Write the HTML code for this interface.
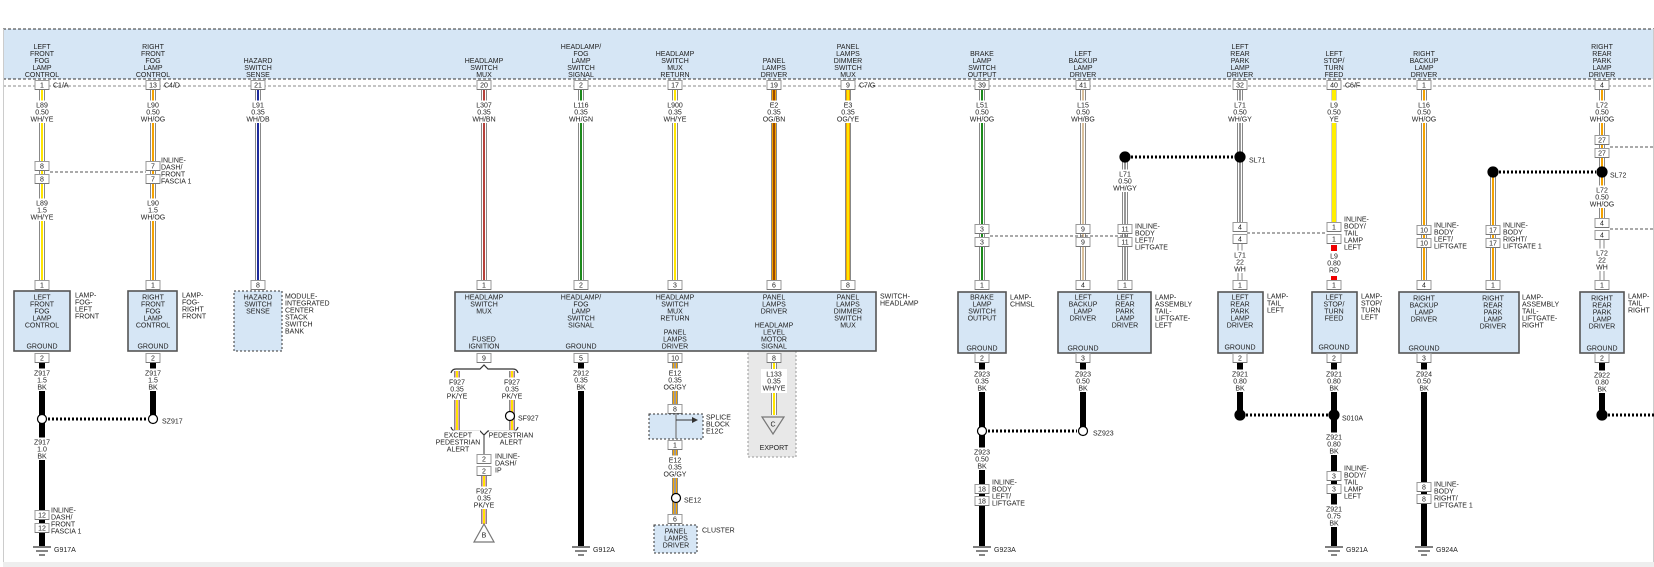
<!DOCTYPE html>
<html><head><meta charset="utf-8"><style>
html,body{margin:0;padding:0;background:#fff;}
svg{display:block;}
text{font-family:"Liberation Sans",Arial,sans-serif;font-size:7px;fill:#222;}
</style></head><body>
<svg id="s" xmlns="http://www.w3.org/2000/svg" width="1654" height="567" viewBox="0 0 1654 567">
<rect x="0" y="0" width="1654" height="567" fill="#fff"/>
<rect x="3" y="29" width="1651" height="50" fill="#d6e6f5"/>
<line x1="3" y1="29" x2="1654" y2="29" stroke="#333" stroke-dasharray="3,2"/>
<line x1="3" y1="79" x2="1654" y2="79" stroke="#333" stroke-dasharray="3,2"/>
<line x1="3" y1="86" x2="1654" y2="86" stroke="#888" stroke-dasharray="3,2"/>
<line x1="3.5" y1="29" x2="3.5" y2="562" stroke="#ccc"/>
<line x1="1653.5" y1="29" x2="1653.5" y2="562" stroke="#ccc"/>
<rect x="3" y="562" width="1651" height="5" fill="#eeeeee"/>
<!-- export area -->
<rect x="748" y="351" width="48" height="106" fill="#e8e8e8" stroke="#999" stroke-dasharray="2,2"/>
<g id="g"></g>
</svg>
<script>
const NS='http://www.w3.org/2000/svg';
const G=document.getElementById('g');
function el(t,a,txt){const e=document.createElementNS(NS,t);for(const k in a)e.setAttribute(k,a[k]);if(txt!==undefined)e.textContent=txt;G.appendChild(e);return e;}
const W={
WHYE:['#fff','#ffe600'],WHOG:['#fff','#f5a300'],WHDB:['#fff','#1c2a9c'],WHBN:['#fff','#b5403a'],
WHGN:['#fff','#1b8a1b'],OGBN:['#f5a300','#9a4a00'],OGYE:['#f5a300','#ffe600'],OGGY:['#f5a300','#999'],
WHBG:['#fff','#d9c09c'],WHGY:['#fff','#999'],YE:['#ffee00',null],PKYE:['#e6a3b4','#ffe600'],WH:['#fff',null]};
function wire(x,y1,y2,t){
 if(t==='BK'){el('rect',{x:x-3,y:y1,width:6,height:y2-y1,fill:'#000'});return;}
 if(t==='WH'){el('line',{x1:x-2,y1:y1,x2:x-2,y2:y2,stroke:'#888'});el('line',{x1:x+2,y1:y1,x2:x+2,y2:y2,stroke:'#888'});return;}
 const c=W[t];
 el('rect',{x:x-3,y:y1,width:6,height:y2-y1,fill:t==='YE'?'#ccc':'#888'});
 el('rect',{x:x-2,y:y1,width:4,height:y2-y1,fill:c[0]});
 if(c[1])el('rect',{x:x-1,y:y1,width:2,height:y2-y1,fill:c[1]});
}
function txt(x,yc,lines,anchor,bg,size){
 anchor=anchor||'middle';size=size||7;const lh=7;
 if(bg){let w=0;lines.forEach(l=>w=Math.max(w,l.length*4.2));
  let x0=anchor==='middle'?x-w/2-1:x-1;
  el('rect',{x:x0,y:yc-4.5,width:w+2,height:lines.length*lh+1.5,fill:'#fff'});}
 lines.forEach((l,i)=>el('text',{x:x,y:yc+2.5+i*lh,'text-anchor':anchor,'font-size':size},l));
}
function pin(x,y,n){el('rect',{x:x-7,y:y-4.5,width:14,height:9,fill:'#fff',stroke:'#999','stroke-width':1});
 el('line',{x1:x-7,y1:y+4.5,x2:x+7,y2:y+4.5,stroke:'#777'});
 el('text',{x:x,y:y+2.5,'text-anchor':'middle','font-size':6.5},n);}
function box(x1,y1,x2,y2,dash){el('rect',{x:x1,y:y1,width:x2-x1,height:y2-y1,fill:'#d6e6f5',stroke:dash?'#333':'#555','stroke-width':dash?1:1.6,'stroke-dasharray':dash?'2,2':'none'});}
function circ(x,y,f){el('circle',{cx:x,cy:y,r:f?5:4.5,fill:f?'#000':'#fff',stroke:'#000','stroke-width':1.2});}
function dots(x1,x2,y){el('line',{x1:x1,y1:y,x2:x2,y2:y,stroke:'#000','stroke-width':3,'stroke-dasharray':'2,2'});}
function dash(x1,x2,y){el('line',{x1:x1,y1:y,x2:x2,y2:y,stroke:'#555','stroke-dasharray':'3,2'});}
function gnd(x,y,l){el('line',{x1:x-9,y1:y,x2:x+9,y2:y,stroke:'#333','stroke-width':1.2});
 el('line',{x1:x-6,y1:y+4,x2:x+6,y2:y+4,stroke:'#333','stroke-width':1.2});
 el('line',{x1:x-3,y1:y+8,x2:x+3,y2:y+8,stroke:'#333','stroke-width':1.2});
 el('text',{x:x+12,y:y+5},l);}
function hdr(x,s){const L=s.split('|');L.forEach((l,i)=>el('text',{x:x,y:77-(L.length-1-i)*7,'text-anchor':'middle'},l));}

// ---------- TOP WIRES ----------
const cols=[
[42,'LEFT|FRONT|FOG|LAMP|CONTROL','1','C1/A','WHYE',['L89','0.50','WH/YE']],
[153,'RIGHT|FRONT|FOG|LAMP|CONTROL','13','C4/D','WHOG',['L90','0.50','WH/OG']],
[258,'HAZARD|SWITCH|SENSE','21','','WHDB',['L91','0.35','WH/DB']],
[484,'HEADLAMP|SWITCH|MUX','20','','WHBN',['L307','0.35','WH/BN']],
[581,'HEADLAMP/|FOG|LAMP|SWITCH|SIGNAL','2','','WHGN',['L116','0.35','WH/GN']],
[675,'HEADLAMP|SWITCH|MUX|RETURN','17','','WHYE',['L900','0.35','WH/YE']],
[774,'PANEL|LAMPS|DRIVER','19','','OGBN',['E2','0.35','OG/BN']],
[848,'PANEL|LAMPS|DIMMER|SWITCH|MUX','9','C7/G','OGYE',['E3','0.35','OG/YE']],
[982,'BRAKE|LAMP|SWITCH|OUTPUT','39','','WHGN',['L51','0.50','WH/OG']],
[1083,'LEFT|BACKUP|LAMP|DRIVER','41','','WHBG',['L15','0.50','WH/BG']],
[1240,'LEFT|REAR|PARK|LAMP|DRIVER','32','','WHGY',['L71','0.50','WH/GY']],
[1334,'LEFT|STOP/|TURN|FEED','40','C6/F','YE',['L9','0.50','YE']],
[1424,'RIGHT|BACKUP|LAMP|DRIVER','1','','WHOG',['L16','0.50','WH/OG']],
[1602,'RIGHT|REAR|PARK|LAMP|DRIVER','4','','WHOG',['L72','0.50','WH/OG']]];
const bottomEnd={1240:222,1334:222,1602:218};
cols.forEach(c=>{const [x,h,p,side,t,lab]=c;hdr(x,h);
 wire(x,90,bottomEnd[x]||281,t);
});
// lower thin/other segments
wire(1240,243,281,'WH');wire(1602,240,281,'WH');
wire(1125,162,281,'WHGY');wire(1493,177,281,'WHOG');
// dashed lines between inline connectors
dash(50,146,172);dash(990,1130,236);dash(1247,1327,233);dash(1610,1654,147);dash(1610,1654,229);
cols.forEach(c=>{const [x,h,p,side,t,lab]=c;pin(x,85,p);if(side)txt(x+11,85,[side],'start');txt(x,105,lab,'middle',true);});
// left fog inline
pin(42,166,'8');pin(42,179,'8');txt(42,203,['L89','1.5','WH/YE'],'middle',true);
pin(153,166,'7');pin(153,179,'7');txt(153,203,['L90','1.5','WH/OG'],'middle',true);
txt(161,160,['INLINE-','DASH/','FRONT','FASCIA 1'],'start');
// right side inlines
pin(982,229,'3');pin(982,242,'3');pin(1083,229,'9');pin(1083,242,'9');
pin(1125,229,'11');pin(1125,242,'11');txt(1135,226,['INLINE-','BODY','LEFT/','LIFTGATE'],'start');
circ(1125,157,true);dots(1131,1234,157);circ(1240,157,true);txt(1249,160,['SL71'],'start');
txt(1125,174,['L71','0.50','WH/GY'],'middle',true);
pin(1240,227,'4');pin(1240,239,'4');txt(1240,255,['L71','22','WH'],'middle',true);
pin(1334,227,'1');pin(1334,239,'1');txt(1344,219,['INLINE-','BODY/','TAIL','LAMP','LEFT'],'start');
el('rect',{x:1331,y:245,width:6,height:6,fill:'#e00'});el('rect',{x:1331,y:276,width:6,height:6,fill:'#e00'});
txt(1334,256,['L9','0.80','RD'],'middle',true);
pin(1424,230,'10');pin(1424,243,'10');txt(1434,225,['INLINE-','BODY','LEFT/','LIFTGATE'],'start');
pin(1493,230,'17');pin(1493,243,'17');txt(1503,225,['INLINE-','BODY','RIGHT/','LIFTGATE 1'],'start');
circ(1493,172,true);dots(1499,1596,172);circ(1602,172,true);txt(1610,175,['SL72'],'start');
pin(1602,140,'27');pin(1602,153,'27');txt(1602,190,['L72','0.50','WH/OG'],'middle',true);
pin(1602,223,'4');pin(1602,235,'4');txt(1602,253,['L72','22','WH'],'middle',true);

// ---------- BOXES ----------
function blines(x,y,s){txt(x,y,s.split('|'));}
box(14,291,70,351);blines(42,297,'LEFT|FRONT|FOG|LAMP|CONTROL');txt(42,346,['GROUND']);txt(75,295,['LAMP-','FOG-','LEFT','FRONT'],'start');
box(128,291,177,351);blines(153,297,'RIGHT|FRONT|FOG|LAMP|CONTROL');txt(153,346,['GROUND']);txt(182,295,['LAMP-','FOG-','RIGHT','FRONT'],'start');
box(234,291,282,351,true);blines(258,297,'HAZARD|SWITCH|SENSE');txt(285,296,['MODULE-','INTEGRATED','CENTER','STACK','SWITCH','BANK'],'start');
box(455,292,876,351);
blines(484,297,'HEADLAMP|SWITCH|MUX');blines(581,297,'HEADLAMP/|FOG|LAMP|SWITCH|SIGNAL');
blines(675,297,'HEADLAMP|SWITCH|MUX|RETURN');blines(774,297,'PANEL|LAMPS|DRIVER');blines(848,297,'PANEL|LAMPS|DIMMER|SWITCH|MUX');
txt(484,339,['FUSED','IGNITION']);txt(581,346,['GROUND']);txt(675,332,['PANEL','LAMPS','DRIVER']);txt(774,325,['HEADLAMP','LEVEL','MOTOR','SIGNAL']);
txt(880,296,['SWITCH-','HEADLAMP'],'start');
box(958,292,1006,353);blines(982,297,'BRAKE|LAMP|SWITCH|OUTPUT');txt(982,348,['GROUND']);txt(1010,297,['LAMP-','CHMSL'],'start');
box(1058,292,1151,353);blines(1083,297,'LEFT|BACKUP|LAMP|DRIVER');blines(1125,297,'LEFT|REAR|PARK|LAMP|DRIVER');txt(1083,348,['GROUND']);
txt(1155,297,['LAMP-','ASSEMBLY','TAIL-','LIFTGATE-','LEFT'],'start');
box(1218,292,1263,353);blines(1240,297,'LEFT|REAR|PARK|LAMP|DRIVER');txt(1240,347,['GROUND']);txt(1267,296,['LAMP-','TAIL','LEFT'],'start');
box(1312,292,1357,353);blines(1334,297,'LEFT|STOP/|TURN|FEED');txt(1334,347,['GROUND']);txt(1361,296,['LAMP-','STOP/','TURN','LEFT'],'start');
box(1399,292,1519,353);blines(1424,298,'RIGHT|BACKUP|LAMP|DRIVER');blines(1493,298,'RIGHT|REAR|PARK|LAMP|DRIVER');txt(1424,348,['GROUND']);
txt(1522,297,['LAMP-','ASSEMBLY','TAIL-','LIFTGATE-','RIGHT'],'start');
box(1580,292,1624,353);blines(1602,298,'RIGHT|REAR|PARK|LAMP|DRIVER');txt(1602,348,['GROUND']);txt(1628,296,['LAMP-','TAIL','RIGHT'],'start');
// bottom pins of boxes
[[42,'1'],[153,'1'],[258,'8'],[484,'1'],[581,'2'],[675,'3'],[774,'6'],[848,'8'],[982,'1'],[1083,'4'],[1125,'1'],[1240,'1'],[1334,'1'],[1424,'4'],[1493,'1'],[1602,'1']].forEach(p=>pin(p[0],285,p[1]));

// ---------- BOTTOM ----------
// left fog grounds
wire(42,362,546,'BK');wire(153,362,419,'BK');
circ(42,419);dots(48,147,419);circ(153,419);txt(162,421,['SZ917'],'start');
txt(42,373,['Z917','1.5','BK'],'middle',true);txt(153,373,['Z917','1.5','BK'],'middle',true);
txt(42,442,['Z917','1.0','BK'],'middle',true);
pin(42,515,'12');pin(42,528,'12');txt(51,510,['INLINE-','DASH/','FRONT','FASCIA 1'],'start');
gnd(42,547,'G917A');
// fused ignition fork
wire(457,371,430,'PKYE');wire(512,371,430,'PKYE');
el('path',{d:'M451,373 Q452,369 456,369 L480,369 L484,365 L488,369 L513,369 Q517,369 518,373',fill:'none',stroke:'#333','stroke-width':1.2});
txt(457,382,['F927','0.35','PK/YE'],'middle',true);txt(512,382,['F927','0.35','PK/YE'],'middle',true);
circ(510,416);txt(518,418,['SF927'],'start');
el('path',{d:'M451,427 Q452,431 456,431 L480,431 L484,435 L488,431 L513,431 Q517,431 518,427',fill:'none',stroke:'#333','stroke-width':1.2});
el('line',{x1:484,y1:435,x2:484,y2:454,stroke:'#777','stroke-width':1.5});
txt(458,435,['EXCEPT','PEDESTRIAN','ALERT'],'middle',true);txt(511,435,['PEDESTRIAN','ALERT'],'middle',true);
pin(484,459,'2');pin(484,471,'2');txt(495,456,['INLINE-','DASH/','IP'],'start');
wire(484,476,524,'PKYE');txt(484,491,['F927','0.35','PK/YE'],'middle',true);
el('path',{d:'M484,524 L474,542 L494,542 Z',fill:'#fff',stroke:'#777','stroke-width':1.2});
txt(484,535,['B']);
// ground 581
wire(581,362,546,'BK');txt(581,373,['Z912','0.35','BK'],'middle',true);gnd(581,547,'G912A');
// panel lamps E12
wire(675,362,405,'OGGY');txt(675,373,['E12','0.35','OG/GY'],'middle',true);
pin(675,409,'8');
box(649,414,703,439,true);
el('line',{x1:676,y1:414,x2:676,y2:439,stroke:'#777','stroke-width':1.2});
el('line',{x1:676,y1:420,x2:693,y2:420,stroke:'#333','stroke-width':1});
el('path',{d:'M698,420 L692,417 L692,423 Z',fill:'#333'});
txt(706,417,['SPLICE','BLOCK','E12C'],'start');
pin(675,445,'1');wire(675,450,515,'OGGY');txt(675,460,['E12','0.35','OG/GY'],'middle',true);
circ(676,498);txt(684,500,['SE12'],'start');
pin(675,519,'6');box(654,525,697,553,true);txt(676,531,['PANEL','LAMPS','DRIVER']);txt(702,530,['CLUSTER'],'start');
// export
wire(774,362,415,'WHYE');
el('rect',{x:761,y:369,width:26,height:24,fill:'#fff'});txt(774,374,['L133','0.35','WH/YE']);
el('path',{d:'M762,417 L784,417 L773,434 Z',fill:'#e8e8e8',stroke:'#777','stroke-width':1.2});
txt(773,424,['C']);
el('text',{x:774,y:450,'text-anchor':'middle','font-size':10,fill:'#333'},'EXPORT');
// right side grounds
wire(982,362,546,'BK');wire(1083,362,431,'BK');
txt(982,374,['Z923','0.35','BK'],'middle',true);txt(1083,374,['Z923','0.50','BK'],'middle',true);
circ(982,431);dots(988,1077,431);circ(1083,431);txt(1093,433,['SZ923'],'start');
txt(982,452,['Z923','0.50','BK'],'middle',true);
pin(982,489,'18');pin(982,501,'18');txt(992,482,['INLINE-','BODY','LEFT/','LIFTGATE'],'start');
gnd(982,547,'G923A');
wire(1240,362,415,'BK');wire(1334,362,546,'BK');
txt(1240,374,['Z921','0.80','BK'],'middle',true);txt(1334,374,['Z921','0.80','BK'],'middle',true);
circ(1240,415,true);dots(1246,1328,415);circ(1334,415,true);txt(1342,418,['S010A'],'start');
txt(1334,437,['Z921','0.80','BK'],'middle',true);
pin(1334,476,'3');pin(1334,489,'3');txt(1344,468,['INLINE-','BODY/','TAIL','LAMP','LEFT'],'start');
txt(1334,509,['Z921','0.75','BK'],'middle',true);gnd(1334,547,'G921A');
wire(1424,362,546,'BK');txt(1424,374,['Z924','0.50','BK'],'middle',true);
pin(1424,487,'8');pin(1424,499,'8');txt(1434,484,['INLINE-','BODY','RIGHT/','LIFTGATE 1'],'start');
gnd(1424,547,'G924A');
wire(1602,362,415,'BK');txt(1602,375,['Z922','0.80','BK'],'middle',true);
circ(1602,415,true);dots(1608,1654,415);
// ground pins
[[42,'2'],[153,'2'],[484,'9'],[581,'5'],[675,'10'],[774,'8'],[982,'2'],[1083,'3'],[1240,'2'],[1334,'2'],[1424,'3'],[1602,'2']].forEach(p=>pin(p[0],358,p[1]));
</script>
</body></html>
